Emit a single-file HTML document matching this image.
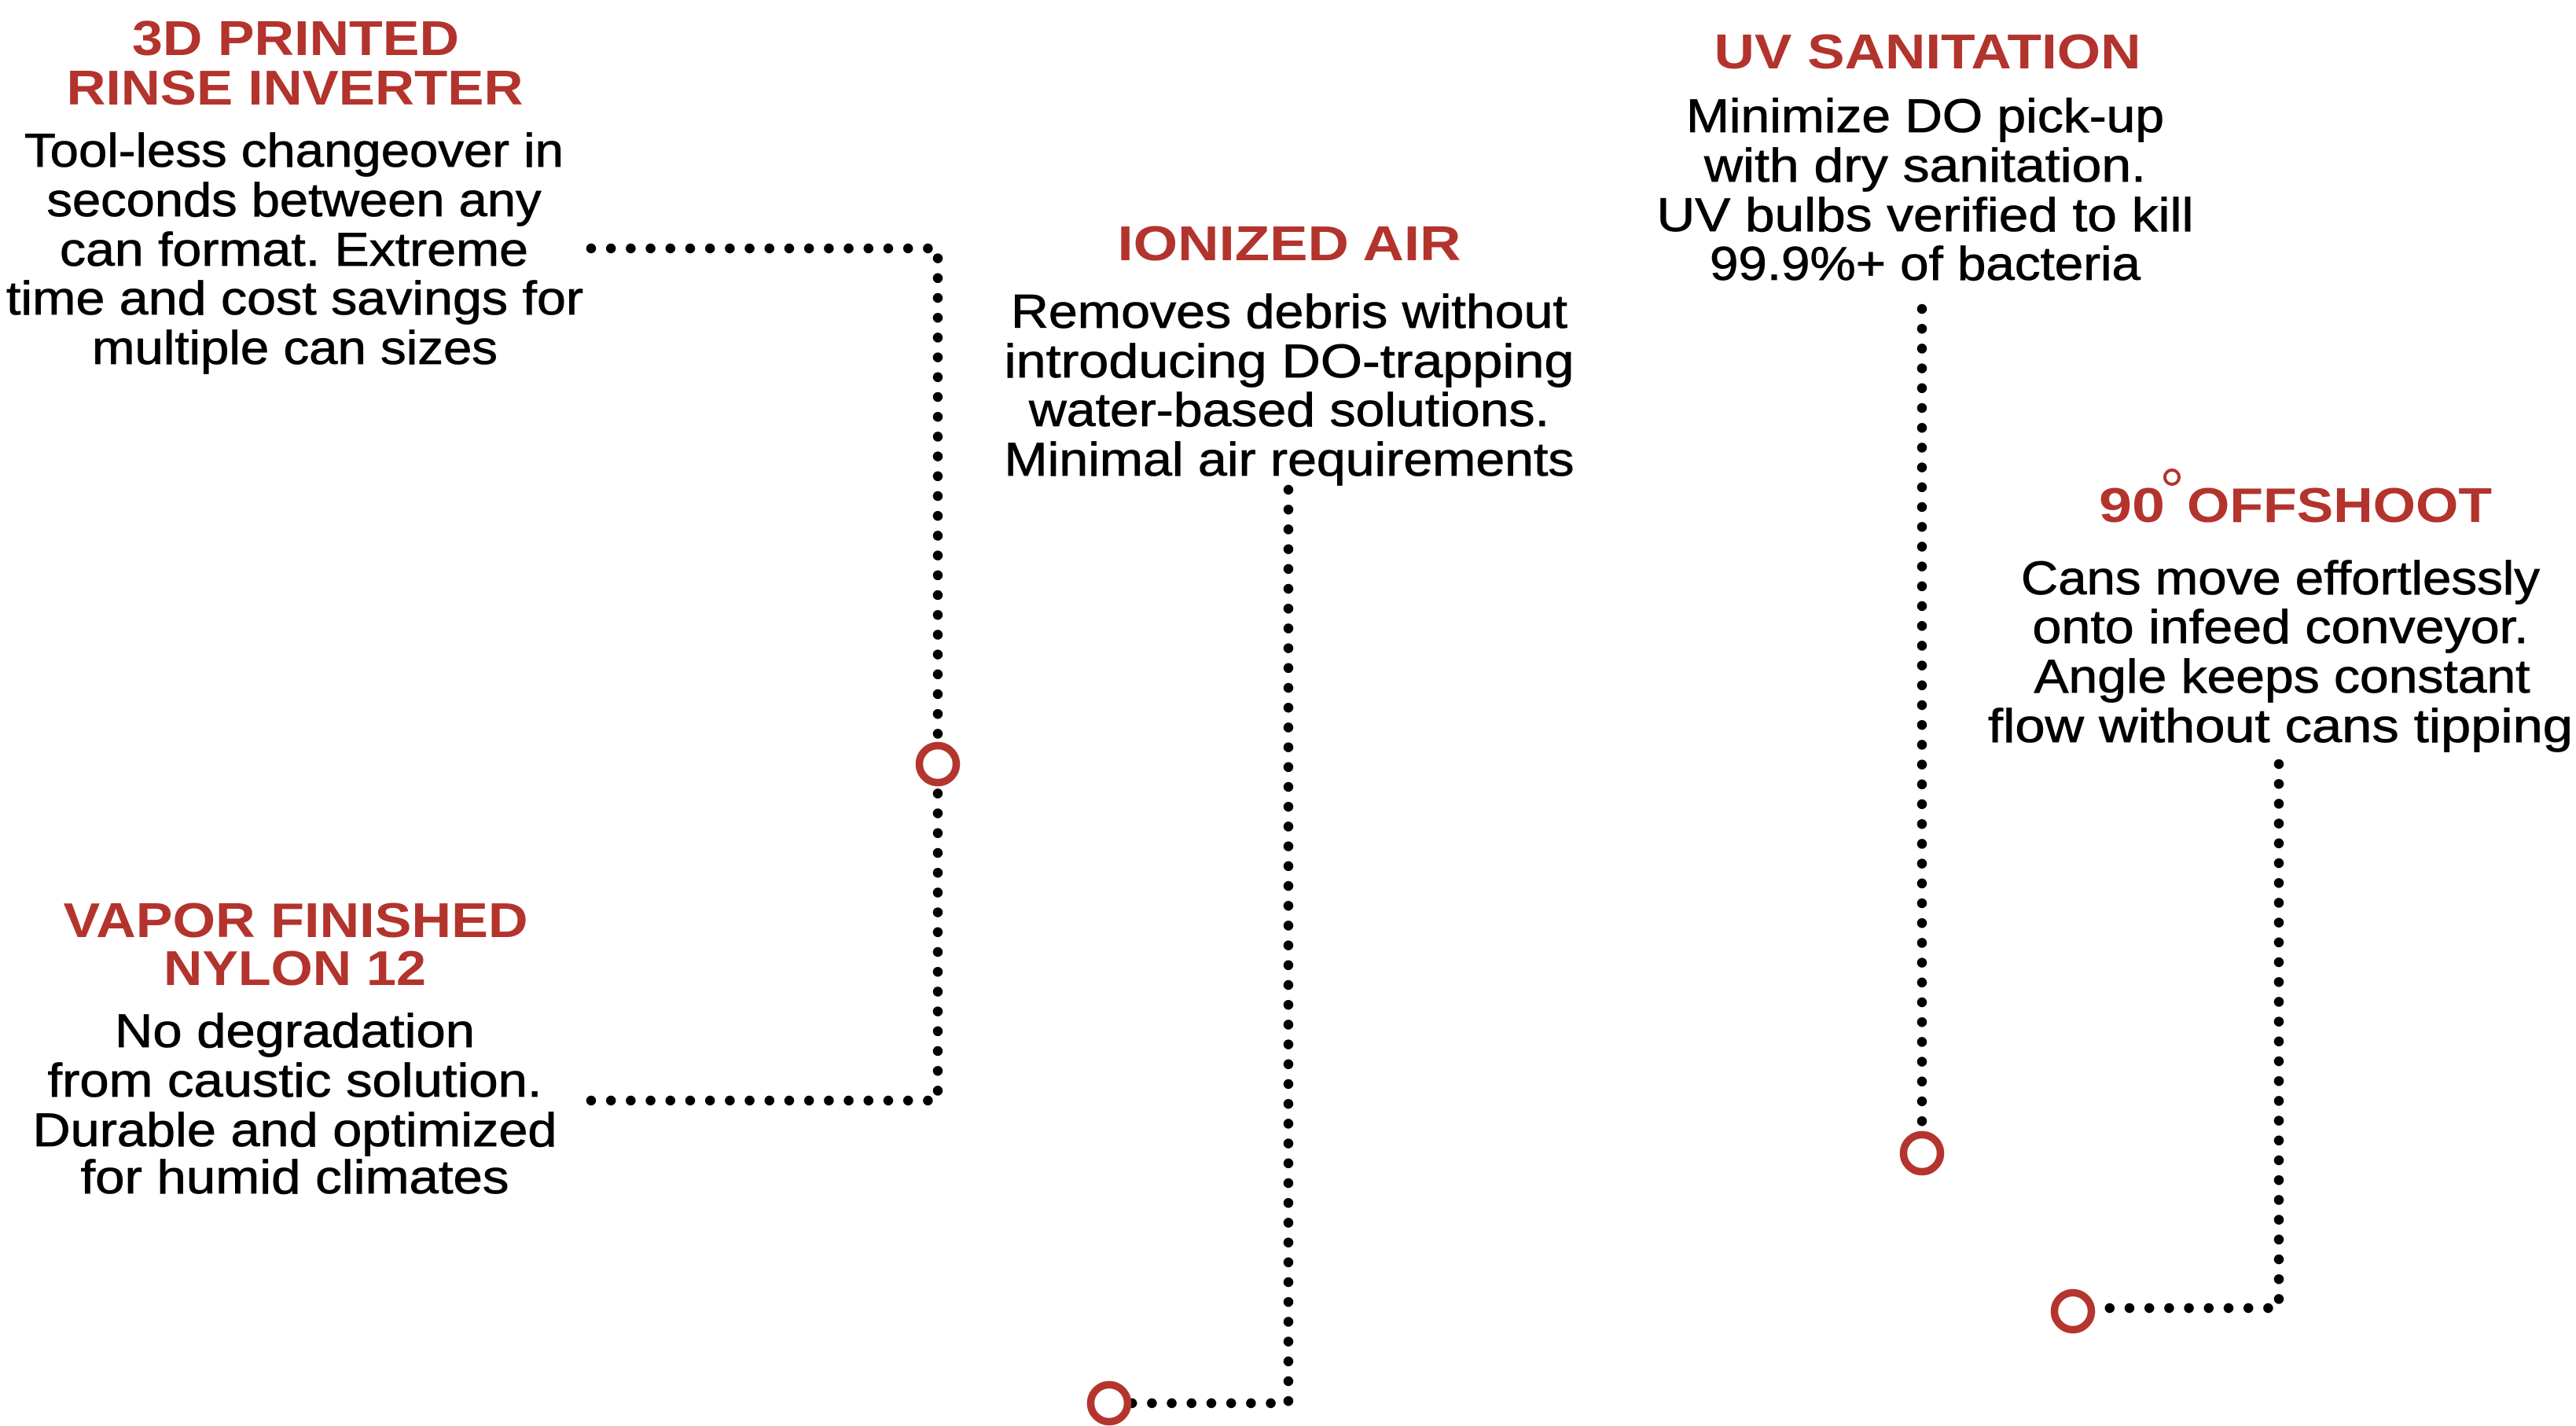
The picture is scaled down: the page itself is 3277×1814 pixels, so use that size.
<!DOCTYPE html>
<html><head><meta charset="utf-8"><style>
html,body{margin:0;padding:0;background:#fff;}
svg{display:block;}
.t{font-family:"Liberation Sans",sans-serif;font-weight:bold;font-size:62px;fill:#b3332d;}
.b{font-family:"Liberation Sans",sans-serif;font-size:60px;fill:#000;stroke:#000;stroke-width:0.8px;}
.d{fill:none;stroke:#000;stroke-width:12.5;stroke-linecap:round;stroke-dasharray:0 25.2;}
.c{fill:#fff;stroke:#b3352d;stroke-width:9.5;}
</style></head><body>
<svg width="3277" height="1814" viewBox="0 0 3277 1814" xmlns="http://www.w3.org/2000/svg">
<path class="d" d="M752 316 H1193 V948"/>
<path class="d" d="M752 1400 H1193 V998"/>
<path class="d" d="M1639 623 V1785 H1440"/>
<path class="d" d="M2445 393 V1440"/>
<path class="d" d="M2899 972 V1664 H2665"/>
<circle class="c" cx="1193" cy="972" r="23.5"/>
<circle class="c" cx="1411" cy="1785" r="23.5"/>
<circle class="c" cx="2445" cy="1467" r="23.5"/>
<circle class="c" cx="2637" cy="1668" r="23.5"/>

<g text-anchor="middle">
<text class="t" x="376" y="70" textLength="416" lengthAdjust="spacingAndGlyphs">3D PRINTED</text>
<text class="t" x="375" y="133" textLength="581" lengthAdjust="spacingAndGlyphs">RINSE INVERTER</text>
<text class="b" x="374" y="212" textLength="686" lengthAdjust="spacingAndGlyphs">Tool-less changeover in</text>
<text class="b" x="374" y="275" textLength="629" lengthAdjust="spacingAndGlyphs">seconds between any</text>
<text class="b" x="374" y="338" textLength="596" lengthAdjust="spacingAndGlyphs">can format. Extreme</text>
<text class="b" x="375" y="400" textLength="734" lengthAdjust="spacingAndGlyphs">time and cost savings for</text>
<text class="b" x="375" y="463" textLength="516" lengthAdjust="spacingAndGlyphs">multiple can sizes</text>

<text class="t" x="376" y="1192" textLength="591" lengthAdjust="spacingAndGlyphs">VAPOR FINISHED</text>
<text class="t" x="375" y="1253" textLength="334" lengthAdjust="spacingAndGlyphs">NYLON 12</text>
<text class="b" x="375" y="1332" textLength="458" lengthAdjust="spacingAndGlyphs">No degradation</text>
<text class="b" x="375" y="1395" textLength="629" lengthAdjust="spacingAndGlyphs">from caustic solution.</text>
<text class="b" x="375" y="1458" textLength="667" lengthAdjust="spacingAndGlyphs">Durable and optimized</text>
<text class="b" x="375" y="1518" textLength="545" lengthAdjust="spacingAndGlyphs">for humid climates</text>

<text class="t" x="1640" y="331" textLength="437" lengthAdjust="spacingAndGlyphs">IONIZED AIR</text>
<text class="b" x="1640" y="417" textLength="708" lengthAdjust="spacingAndGlyphs">Removes debris without</text>
<text class="b" x="1640" y="480" textLength="725" lengthAdjust="spacingAndGlyphs">introducing DO-trapping</text>
<text class="b" x="1640" y="542" textLength="662" lengthAdjust="spacingAndGlyphs">water-based solutions.</text>
<text class="b" x="1640" y="605" textLength="725" lengthAdjust="spacingAndGlyphs">Minimal air requirements</text>

<text class="t" x="2452" y="87" textLength="543" lengthAdjust="spacingAndGlyphs">UV SANITATION</text>
<text class="b" x="2449" y="168" textLength="608" lengthAdjust="spacingAndGlyphs">Minimize DO pick-up</text>
<text class="b" x="2449" y="231" textLength="562" lengthAdjust="spacingAndGlyphs">with dry sanitation.</text>
<text class="b" x="2449" y="294" textLength="683" lengthAdjust="spacingAndGlyphs">UV bulbs verified to kill</text>
<text class="b" x="2449" y="356" textLength="548" lengthAdjust="spacingAndGlyphs">99.9%+ of bacteria</text>

<text class="b" x="2901" y="756" textLength="660" lengthAdjust="spacingAndGlyphs">Cans move effortlessly</text>
<text class="b" x="2901" y="818" textLength="631" lengthAdjust="spacingAndGlyphs">onto infeed conveyor.</text>
<text class="b" x="2903" y="881" textLength="631" lengthAdjust="spacingAndGlyphs">Angle keeps constant</text>
<text class="b" x="2901" y="944" textLength="744" lengthAdjust="spacingAndGlyphs">flow without cans tipping</text>
</g>
<text class="t" x="2670" y="664" textLength="84" lengthAdjust="spacingAndGlyphs">90</text>
<circle cx="2763" cy="607" r="9" fill="none" stroke="#b3332d" stroke-width="4"/>
<text class="t" x="2782" y="664" textLength="388" lengthAdjust="spacingAndGlyphs">OFFSHOOT</text>
</svg>
</body></html>
